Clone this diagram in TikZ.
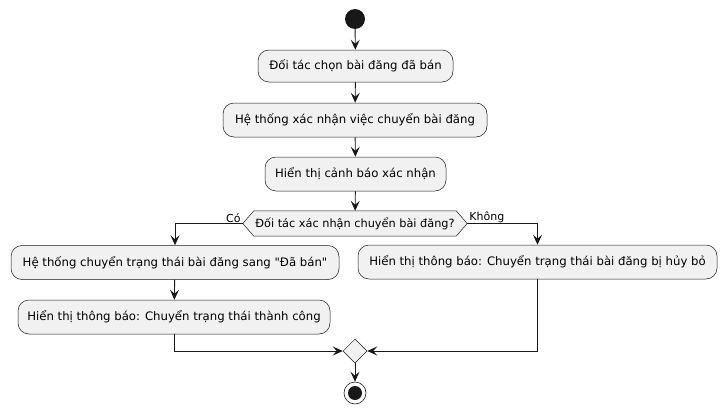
\documentclass[tikz,border=0pt]{standalone}
\usepackage{fontspec}
\setmainfont{DejaVu Sans}
\usetikzlibrary{arrows.meta,backgrounds,shapes.geometric}
\definecolor{boxfill}{HTML}{F1F1F1}
\definecolor{ink}{HTML}{181818}
\tikzset{
  act/.style={draw=ink,fill=boxfill,line width=0.5pt,rounded corners=11pt,font=\fontsize{11.7}{14}\selectfont,inner xsep=0pt,inner ysep=0pt,minimum height=34pt},
  flow/.style={draw=ink,line width=0.9pt,-{Stealth[length=10pt,width=9pt,inset=4pt]}},
  lbl/.style={font=\fontsize{11}{13}\selectfont,inner sep=1pt,text=black},
}
\begin{document}
\begin{tikzpicture}[x=1pt,y=-1pt]
\useasboundingbox (0,0) rectangle (726,415);
\node[circle,fill=ink,minimum size=20pt,inner sep=0pt] (start) at (355,19) {};
\node[act,minimum width=195pt,minimum height=32pt] (b1) at (355.5,66) {Đối tác chọn bài đăng đã bán};
\node[act,minimum width=264pt] (b2) at (355,120) {Hệ thống xác nhận việc chuyển bài đăng};
\node[act,minimum width=181pt] (b3) at (355.5,174) {Hiển thị cảnh báo xác nhận};
\node[font=\fontsize{11.3}{13}\selectfont,minimum width=224pt,minimum height=25pt,inner sep=0pt] (dec) at (355,223.5) {Đối tác xác nhận chuyển bài đăng?};
\begin{scope}[on background layer]
\draw[draw=ink,fill=boxfill,line width=0.5pt] (dec.west) -- ([xshift=11pt]dec.north west) -- ([xshift=-11pt]dec.north east) -- (dec.east) -- ([xshift=-11pt]dec.south east) -- ([xshift=11pt]dec.south west) -- cycle;
\end{scope}
\node[act,minimum width=328pt] (b4) at (175,262.5) {Hệ thống chuyển trạng thái bài đăng sang \textquotedbl Đã bán\textquotedbl};
\node[act,minimum width=312pt] (b5) at (174,317) {Hiển thị thông báo: Chuyển trạng thái thành công};
\node[act,minimum width=359pt] (b6) at (537.5,262) {Hiển thị thông báo: Chuyển trạng thái bài đăng bị hủy bỏ};
\node[diamond,draw=ink,fill=boxfill,line width=0.5pt,minimum width=24pt,minimum height=24pt,inner sep=0pt] (merge) at (355,351) {};
\node[circle,draw=ink,fill=white,line width=0.6pt,minimum size=22pt,inner sep=0pt] (stop) at (355,393) {};
\fill[ink] (stop) circle (7pt);
\draw[flow] (start) -- (b1);
\draw[flow] (b1) -- (b2);
\draw[flow] (b2) -- (b3);
\draw[flow] (b3) -- (dec);
\draw[flow] (dec.west) -| (b4.north);
\draw[flow] (dec.east) -| (b6.north);
\node[lbl,anchor=south east] (yes) at ([xshift=-1pt]dec.west) {Có};
\node[lbl,anchor=south west] (no) at ([xshift=1pt]dec.east) {Không};
\draw[flow] (b4) -- (b5);
\draw[flow] (b5.south) |- (merge.west);
\draw[flow] (b6.south) |- (merge.east);
\draw[flow] (merge) -- (stop);
\end{tikzpicture}
\end{document}
